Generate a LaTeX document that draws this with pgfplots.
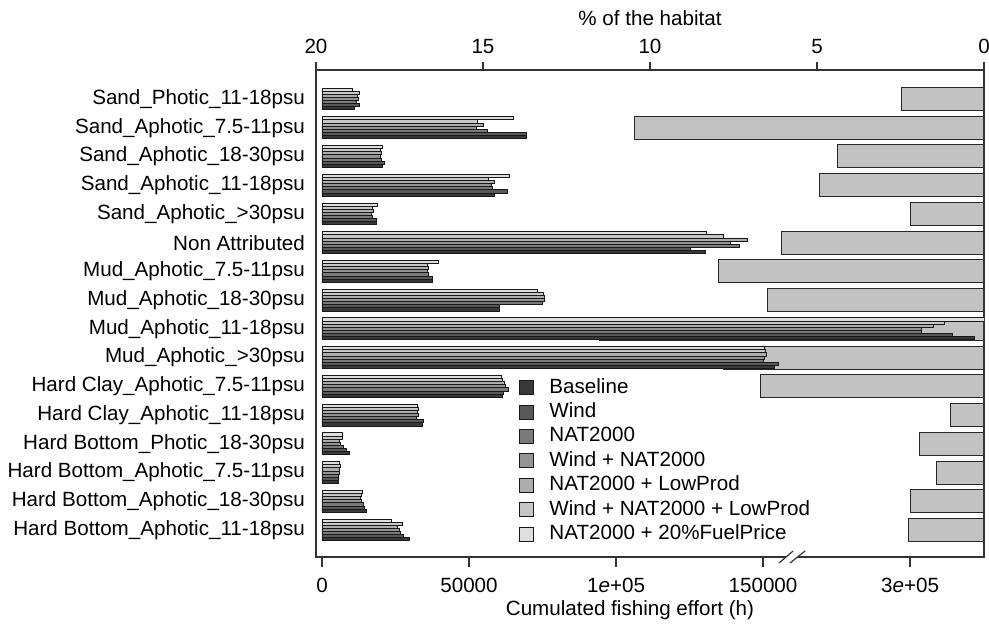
\documentclass[border=0pt]{standalone}
\usepackage{fontspec}
\setmainfont{Liberation Sans}
\usepackage{pgfplots}
\usepackage{pgfplotstable}
\pgfplotsset{compat=1.18}
\definecolor{cB}{gray}{0.22}
\definecolor{cW}{gray}{0.35}
\definecolor{cN}{gray}{0.48}
\definecolor{cWN}{gray}{0.58}
\definecolor{cNL}{gray}{0.68}
\definecolor{cWNL}{gray}{0.78}
\definecolor{cNF}{gray}{0.87}
\definecolor{habgray}{gray}{0.76}

% y = category position (0 = bottom row); effort in hours; hab in % of the habitat
\pgfplotstableread{
y b w n wn nl wnl nf hab
15 10900 12600 11600 12300 12000 12700 10400 2.46
14 69400 69400 56400 52600 54900 53000 65000 10.45
13 20400 21400 20100 19800 20300 20000 20500 4.40
12 58800 63200 58100 57700 58800 56600 63600 4.94
11 18400 18400 17200 16700 17400 17100 18800 2.19
10 130300 125200 141900 138800 144800 136500 130600 6.05
9 37500 37500 36200 35900 36200 35800 39600 7.96
8 60400 60400 75000 75600 75600 75300 73300 6.47
7 321900 314400 303800 303800 307800 311800 326000 11.5
6 154000 155100 150000 150400 151100 150900 150500 7.8
5 61500 61800 63500 62300 62000 61500 61100 6.68
4 34100 34500 32000 32800 32400 32800 32400 0.99
3 9500 8400 7300 6300 6100 6900 6900 1.92
2 5600 5600 5600 5900 6100 6400 5900 1.41
1 15000 14400 14100 13500 13200 13500 13800 2.19
0 29700 27700 26800 26500 25600 27400 23700 2.25
}\data

\pgfplotsset{
  common/.style={
    at={(158pt,36.5pt)}, anchor=south west,
    scale only axis, width=334pt, height=243.5pt,
    ymin=-0.94, ymax=16.009, enlargelimits=false,
    axis line style={line width=0.6pt, black!80},
    every tick/.style={line width=0.6pt, black!80},
    xtick align=outside,
    scaled x ticks=false,
    tick label style={font=\fontsize{10.3pt}{12pt}\selectfont},
    label style={font=\fontsize{10.3pt}{12pt}\selectfont},
  },
  mybar/.style={xbar, bar width=0.109, draw=black!90, line width=0.45pt,
    legend image code/.code={\draw[##1, line width=0.5pt] (0pt,-3.5pt) rectangle (7pt,3.5pt);}},
}

\begin{document}
\begin{tikzpicture}[font=\fontsize{10.3pt}{12pt}\selectfont]
\useasboundingbox (0,0) rectangle (494.5pt,315pt);

% habitat axis (top)
\begin{axis}[common,
  xmin=0, xmax=20, x dir=reverse,
  xtick={0,5,10,15,20}, xticklabels={0,5,10,15,20},
  xtick pos=right, xticklabel pos=right,
  major tick length=4pt,
  xticklabel style={yshift=0.8pt},
  ytick=\empty,
  xlabel={\% of the habitat},
  xlabel style={at={(axis description cs:0.5,1)}, anchor=center, yshift=26pt},
]
\addplot[xbar, bar width=0.8, fill=habgray, draw=black!85, line width=0.5pt] table[x=hab, y=y] {\data};
\end{axis}

% effort axis (bottom)
\begin{axis}[common,
  xmin=-2040, xmax=225150,
  xtick={0,50000,100000,150000,200000},
  xticklabels={0,50000,1\textit{e}+05,150000,3\textit{e}+05},
  xtick pos=left, xticklabel pos=left,
  major tick length=5pt,
  xticklabel style={yshift=-2pt},
  ytick={0,...,15},
  yticklabels={Hard Bottom\_Aphotic\_11-18psu,Hard Bottom\_Aphotic\_18-30psu,Hard Bottom\_Aphotic\_7.5-11psu,Hard Bottom\_Photic\_18-30psu,Hard Clay\_Aphotic\_11-18psu,Hard Clay\_Aphotic\_7.5-11psu,Mud\_Aphotic\_>30psu,Mud\_Aphotic\_11-18psu,Mud\_Aphotic\_18-30psu,Mud\_Aphotic\_7.5-11psu,Non Attributed,Sand\_Aphotic\_>30psu,Sand\_Aphotic\_11-18psu,Sand\_Aphotic\_18-30psu,Sand\_Aphotic\_7.5-11psu,Sand\_Photic\_11-18psu},
  ytick style={draw=none},
  yticklabel style={xshift=-2pt},
  xlabel={Cumulated fishing effort (h)},
  xlabel style={at={(axis description cs:0.47,0)}, anchor=center, yshift=-26.5pt},
  legend style={at={(0.304,0.368)}, anchor=north west, draw=none, fill=none,
    inner sep=0pt, row sep=2.7pt, column sep=7.5pt,
    nodes={inner sep=0pt, text height=7.5pt, text depth=2pt}},
  legend cell align=left,
]
\addplot[mybar, fill=cB,   bar shift=-0.327] table[x expr={\thisrow{b}>160000 ? \thisrow{b}-100000 : \thisrow{b}}, y=y] {\data};
\addplot[mybar, fill=cW,   bar shift=-0.218] table[x expr={\thisrow{w}>160000 ? \thisrow{w}-100000 : \thisrow{w}}, y=y] {\data};
\addplot[mybar, fill=cN,   bar shift=-0.109] table[x expr={\thisrow{n}>160000 ? \thisrow{n}-100000 : \thisrow{n}}, y=y] {\data};
\addplot[mybar, fill=cWN,  bar shift=0]      table[x expr={\thisrow{wn}>160000 ? \thisrow{wn}-100000 : \thisrow{wn}}, y=y] {\data};
\addplot[mybar, fill=cNL,  bar shift=0.109]  table[x expr={\thisrow{nl}>160000 ? \thisrow{nl}-100000 : \thisrow{nl}}, y=y] {\data};
\addplot[mybar, fill=cWNL, bar shift=0.218]  table[x expr={\thisrow{wnl}>160000 ? \thisrow{wnl}-100000 : \thisrow{wnl}}, y=y] {\data};
\addplot[mybar, fill=cNF,  bar shift=0.327]  table[x expr={\thisrow{nf}>160000 ? \thisrow{nf}-100000 : \thisrow{nf}}, y=y] {\data};
\legend{Baseline, Wind, NAT2000, Wind + NAT2000, NAT2000 + LowProd, Wind + NAT2000 + LowProd, NAT2000 + 20\%FuelPrice}
\coordinate (brk) at (axis cs:160000,-0.94);
\end{axis}

% axis break symbol on the bottom frame
\fill[white] ([shift={(-6.7pt,-3pt)}]brk) -- ([shift={(0.3pt,3pt)}]brk) -- ([shift={(6.3pt,3pt)}]brk) -- ([shift={(-1.2pt,-3pt)}]brk) -- cycle;
\draw[line width=0.6pt, black!80] ([shift={(-6.7pt,-3pt)}]brk) -- ([shift={(0.3pt,3pt)}]brk);
\draw[line width=0.6pt, black!80] ([shift={(-1.2pt,-3pt)}]brk) -- ([shift={(6.3pt,3pt)}]brk);
\end{tikzpicture}
\end{document}
